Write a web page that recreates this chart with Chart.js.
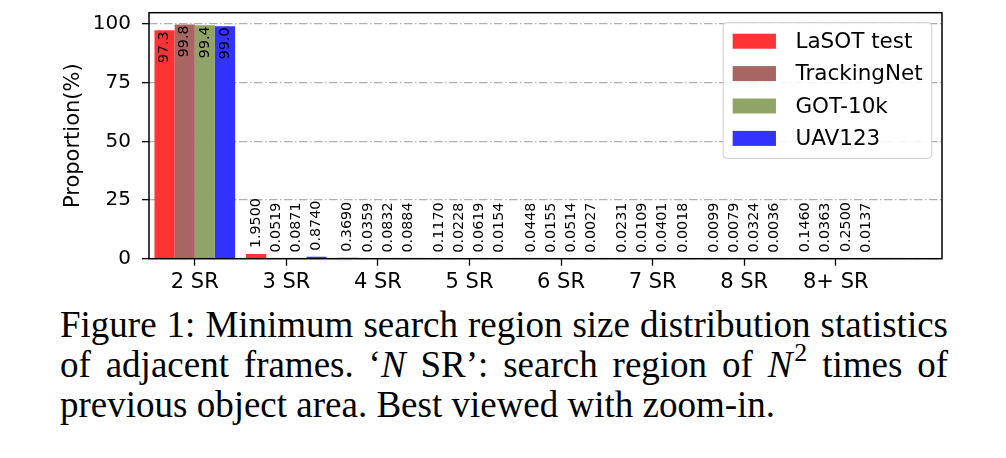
<!DOCTYPE html>
<html>
<head>
<meta charset="utf-8">
<script src="https://cdn.jsdelivr.net/npm/chart.js@4.4.1/dist/chart.umd.min.js"></script>
<style>
  html, body { margin: 0; padding: 0; background: #ffffff; }
  body { width: 1006px; height: 458px; position: relative; overflow: hidden; }
  #wrap { position: absolute; left: 0; top: 0; width: 1006px; height: 300px; }
  .cap { position: absolute; left: 60px; top: 305px; width: 888px;
         font-family: "Liberation Serif", "Times New Roman", serif; font-size: 37px;
         line-height: 40px; color: #000; }
  .cap .l { display: block; white-space: nowrap; }
  .cap .j { text-align: justify; text-align-last: justify; white-space: normal; }
  .cap sup { font-size: 0.7em; line-height: 0; vertical-align: 0.6em; margin-left: 2px; }
</style>
</head>
<body>
<div id="wrap"><canvas id="c" width="1006" height="300"></canvas></div>
<div class="cap">
  <span class="l j">Figure 1: Minimum search region size distribution statistics</span>
  <span class="l j">of adjacent frames. ‘<i>N</i> SR’: search region of <i>N</i><sup>2</sup> times of</span>
  <span class="l">previous object area. Best viewed with zoom-in.</span>
</div>
<script>
const categories = ['2 SR', '3 SR', '4 SR', '5 SR', '6 SR', '7 SR', '8 SR', '8+ SR'];
const seriesNames = ['LaSOT test', 'TrackingNet', 'GOT-10k', 'UAV123'];
const lasotTest   = [97.3, 1.9500, 0.3690, 0.1170, 0.0448, 0.0231, 0.0099, 0.1460];
const trackingNet = [99.8, 0.0519, 0.0359, 0.0228, 0.0155, 0.0109, 0.0079, 0.0363];
const got10k      = [99.4, 0.0871, 0.0832, 0.0619, 0.0514, 0.0401, 0.0324, 0.2500];
const uav123      = [99.0, 0.8740, 0.0884, 0.0154, 0.0027, 0.0018, 0.0036, 0.0137];
const yTickValues = [0, 25, 50, 75, 100];
const seriesColors = ['#ff3333', '#a86662', '#91a467', '#3333ff'];

const seriesValues = [lasotTest, trackingNet, got10k, uav123];

const datasets = seriesNames.map((name, s) => ({
  label: name,
  data: seriesValues[s].map((v, i) => ({ x: i, y: v })),
  backgroundColor: seriesColors[s],
  borderWidth: 0,
  categoryPercentage: 0.88,
  barPercentage: 1.0
}));

const FONT = '"DejaVu Sans", sans-serif';

const valueLabels = {
  id: 'valueLabels',
  afterDatasetsDraw(chart) {
    const ctx = chart.ctx;
    ctx.save();
    ctx.font = '14.3px ' + FONT;
    ctx.fillStyle = '#000';
    ctx.textBaseline = 'middle';
    chart.data.datasets.forEach((ds, s) => {
      const meta = chart.getDatasetMeta(s);
      meta.data.forEach((bar, i) => {
        const v = ds.data[i].y;
        ctx.save();
        if (i === 0) {
          ctx.translate(bar.x, bar.y + 1);
          ctx.rotate(-Math.PI / 2);
          ctx.textAlign = 'right';
          ctx.fillText(v.toFixed(1), 0, 0);
        } else {
          ctx.translate(bar.x, bar.y - 6);
          ctx.rotate(-Math.PI / 2);
          ctx.textAlign = 'left';
          ctx.fillText(v.toFixed(4), 0, 0);
        }
        ctx.restore();
      });
    });
    ctx.restore();
  }
};

const frameAndLegend = {
  id: 'frameAndLegend',
  afterDraw(chart) {
    const ctx = chart.ctx;
    const a = chart.chartArea;
    ctx.save();
    ctx.strokeStyle = '#000';
    ctx.lineWidth = 1.5;
    ctx.setLineDash([]);
    ctx.strokeRect(a.left, a.top, a.right - a.left, a.bottom - a.top);

    ctx.font = '21.5px ' + FONT;
    let maxW = 0;
    chart.data.datasets.forEach(ds => { maxW = Math.max(maxW, ctx.measureText(ds.label).width); });
    const padL = 9.5, patchW = 43.3, patchH = 15, gap = 19.5, padR = 9;
    const rowH = 32.4;
    const boxW = padL + patchW + gap + maxW + padR;
    const boxH = 135.6;
    const boxR = a.right - 10.3;
    const boxT = a.top + 10;
    const boxL = boxR - boxW;
    const r = 4;
    ctx.beginPath();
    ctx.moveTo(boxL + r, boxT);
    ctx.lineTo(boxR - r, boxT);
    ctx.quadraticCurveTo(boxR, boxT, boxR, boxT + r);
    ctx.lineTo(boxR, boxT + boxH - r);
    ctx.quadraticCurveTo(boxR, boxT + boxH, boxR - r, boxT + boxH);
    ctx.lineTo(boxL + r, boxT + boxH);
    ctx.quadraticCurveTo(boxL, boxT + boxH, boxL, boxT + boxH - r);
    ctx.lineTo(boxL, boxT + r);
    ctx.quadraticCurveTo(boxL, boxT, boxL + r, boxT);
    ctx.closePath();
    ctx.fillStyle = 'rgba(255,255,255,0.85)';
    ctx.fill();
    ctx.strokeStyle = '#d6d6d6';
    ctx.lineWidth = 1.2;
    ctx.stroke();

    ctx.textBaseline = 'middle';
    ctx.textAlign = 'left';
    chart.data.datasets.forEach((ds, s) => {
      const cy = boxT + 18.5 + s * rowH;
      ctx.fillStyle = ds.backgroundColor;
      ctx.fillRect(boxL + padL, cy - patchH / 2, patchW, patchH);
      ctx.fillStyle = '#000';
      ctx.fillText(ds.label, boxL + padL + patchW + gap, cy + 1);
    });
    ctx.restore();
  }
};

new Chart(document.getElementById('c'), {
  type: 'bar',
  data: { datasets },
  options: {
    responsive: false,
    animation: false,
    devicePixelRatio: 1,
    layout: { padding: { left: 0, right: 64, top: 12.7, bottom: 0 } },
    plugins: { legend: { display: false }, tooltip: { enabled: false } },
    scales: {
      x: {
        type: 'linear',
        offset: false,
        min: -0.5,
        max: 8.16,
        afterBuildTicks(scale) { scale.ticks = categories.map((c, i) => ({ value: i })); },
        afterFit(scale) {
          scale.height = 300 - 258.7;
          scale.paddingLeft = 0; scale.paddingRight = 0;
        },
        ticks: {
          autoSkip: false, maxRotation: 0, minRotation: 0,
          padding: 4,
          color: '#000',
          font: { family: FONT, size: 21 },
          callback: (v) => categories[v]
        },
        grid: {
          offset: false,
          drawOnChartArea: false, drawTicks: true, tickLength: 7,
          tickColor: '#000', tickWidth: 1.3, color: '#000'
        },
        border: { display: false }
      },
      y: {
        min: 0,
        max: 104.79,
        afterBuildTicks(scale) { scale.ticks = yTickValues.map(v => ({ value: v })); },
        afterFit(scale) {
          scale.width = 149;
          scale.paddingTop = 0; scale.paddingBottom = 0;
        },
        ticks: {
          padding: 11,
          color: '#000',
          font: { family: FONT, size: 20 },
          callback: (v) => String(v)
        },
        grid: {
          drawOnChartArea: true, drawTicks: true, tickLength: 7,
          color: '#b0b0b0', lineWidth: 1.3,
          tickColor: '#000', tickWidth: 1.3, tickBorderDash: []
        },
        border: { display: false, dash: [8.5, 2.5, 1.5, 2.5] },
        title: {
          display: true,
          text: 'Proportion(%)',
          color: '#000',
          font: { family: FONT, size: 21 },
          padding: { top: 61, bottom: 0 }
        }
      }
    }
  },
  plugins: [valueLabels, frameAndLegend]
});
</script>
</body>
</html>
